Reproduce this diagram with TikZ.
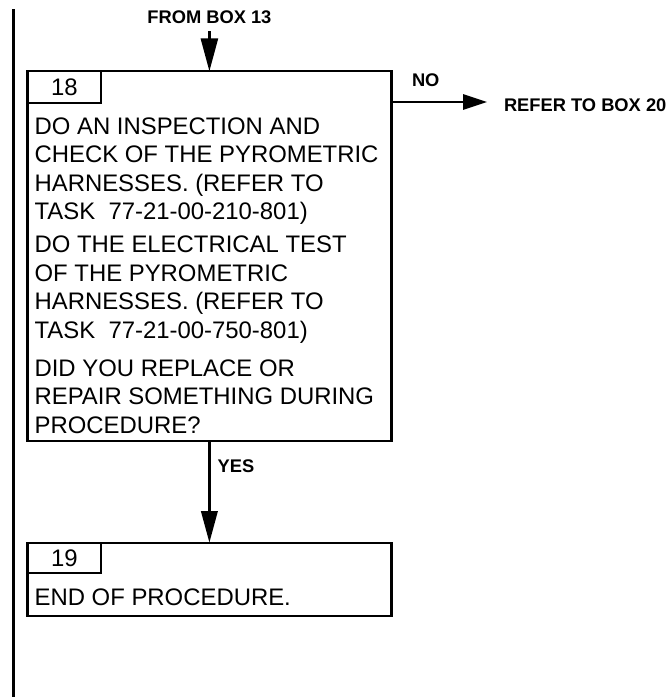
\documentclass[tikz,border=0pt]{standalone}
\usepackage{fontspec}
\setmainfont{Liberation Sans}
\usepackage{tikz}
\usetikzlibrary{arrows.meta, positioning}

\begin{document}
\begin{tikzpicture}[
          x=1pt, y=-1pt,
          font=\fontsize{23.9}{28.5}\selectfont,
          box/.style={draw, line width=2.2pt, minimum width=364pt, inner sep=0pt, outer sep=0pt},
          tab/.style={draw, line width=2pt, minimum width=74pt, inner sep=0pt, outer sep=0pt, anchor=north west},
          body/.style={align=left, inner sep=0pt},
          lbl/.style={font=\fontsize{18.3}{20}\selectfont\bfseries, inner sep=0pt},
          arrow/.style={-{Triangle[length=33pt, width=17pt]}, line width=2.7pt}
        ]

        \useasboundingbox (0,0) rectangle (671,697);

        % -------- Margin bar --------
        \draw [line width=3.5pt] (13.5,9) -- (13.5,697);

        % -------- Box 18 --------
        \node [box, minimum height=370pt] (B18) at (209.4,256.3) {};
        \node [tab, minimum height=31.7pt] (N18) at (B18.north west) {18};
        \node [body, below right=14.5pt and 7pt of N18.south west] (T18) {
          DO AN INSPECTION AND\\
          CHECK OF THE PYROMETRIC\\
          HARNESSES. (REFER TO\\
          TASK\ \ 77-21-00-210-801)\\[4.5pt]
          DO THE ELECTRICAL TEST\\
          OF THE PYROMETRIC\\
          HARNESSES. (REFER TO\\
          TASK\ \ 77-21-00-750-801)\\[9.5pt]
          DID YOU REPLACE OR\\
          REPAIR SOMETHING DURING\\
          PROCEDURE?
        };

        % -------- Box 19 --------
        \node [box, minimum height=72.7pt, below=101.7pt of B18] (B19) {};
        \node [tab, minimum height=30pt] (N19) at (B19.north west) {19};
        \node [body, below right=15.6pt and 7pt of N19.south west] (T19) {END OF PROCEDURE.};

        % -------- Labels --------
        \node [lbl, above=47.8pt of B18.north] (FROM) {FROM BOX 13};
        \coordinate (NOout) at ([yshift=-30.7pt]B18.north east);
        \node [lbl, above right=15.3pt and 20.4pt of NOout] (NO) {NO};
        \node [lbl, right=112.4pt of NOout, yshift=-2.7pt] (REF) {REFER TO BOX 20};
        \node [lbl, below right=18pt and 8pt of B18.south] (YES) {YES};

        % -------- Arrows --------
        \draw [arrow, shorten <=7.5pt] (FROM.south) -- (B18.north);
        \draw [arrow, line width=3.8pt, -{Triangle[length=32pt, width=16pt]}] (B18.south) -- (B19.north);
        \draw [arrow, -{Triangle[length=24pt, width=15pt]}, shorten >=16.7pt] (NOout) -- (NOout -| REF.west);

      \end{tikzpicture}
\end{document}
